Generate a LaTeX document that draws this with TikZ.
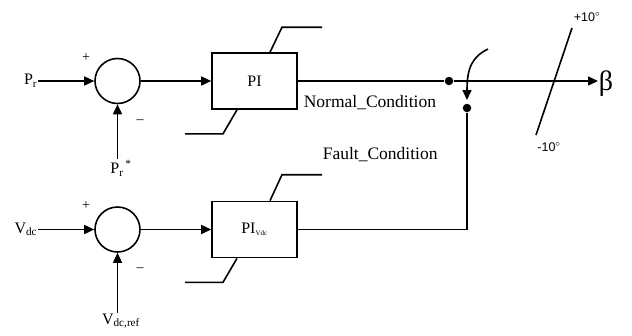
\documentclass[tikz,border=0pt]{standalone}
\usepackage{fontspec}
\setmainfont{Liberation Serif}
\newfontfamily\degfont{Liberation Sans}
\usetikzlibrary{arrows.meta,positioning,calc}

\begin{document}
\begin{tikzpicture}[x=1pt,y=-1pt,
  blk/.style={draw, line width=1.6pt, minimum width=85pt, minimum height=56pt, inner sep=0pt, font=\fontsize{16}{18}\selectfont},
  sumc/.style={draw, circle, line width=1.6pt, minimum size=45pt, inner sep=0pt},
  lbl/.style={inner sep=0pt, font=\fontsize{16}{18}\selectfont},
  sgn/.style={inner sep=0pt, font=\fontsize{14}{16}\selectfont},
  cond/.style={inner sep=0pt, anchor=west, font=\fontsize{17.5}{20}\selectfont},
  deg/.style={inner sep=0pt, font=\degfont\fontsize{12.5}{14}\selectfont},
  jdot/.style={circle, fill, inner sep=0pt, minimum size=8.5pt},
  line width=1.6pt, >={Triangle[length=10pt,width=9pt]}]
  \useasboundingbox (0,0) rectangle (632,335);

  % upper loop
  \node[sumc] (sum1) at (117.5,81) {};
  \node[blk] (pi1) at (254.5,81) {PI};
  \node[lbl, anchor=east] (pr) at (38,81) {P\textsubscript{r}};
  \node[lbl, anchor=north] (prs) at (121,159) {P\textsubscript{r}\textsuperscript{\,*}};
  \node[sgn] (plus1) at (86,58) {+};
  \node[sgn] (minus1) at (140,122) {--};
  \draw[->] (pr) -- (sum1);
  \draw[->] (prs.north -| sum1) -- (sum1);
  \draw[->] (sum1) -- (pi1);
  \draw ($(pi1.north)+(15.5,0)$) -- ++(12,-25) -- ++(40,0);
  \draw ($(pi1.south)+(-17.5,0)$) -- ++(-14,24) -- ++(-38,0);

  % lower loop
  \node[sumc] (sum2) at (117.5,229.5) {};
  \node[blk] (pi2) at (254.5,229.5) {PI\textsubscript{\scriptsize Vdc}};
  \node[lbl, anchor=east] (vdc) at (38,229.5) {V\textsubscript{dc}};
  \node[lbl, anchor=north] (vdcr) at (121,313) {V\textsubscript{dc,ref}};
  \node[sgn] (plus2) at (86,206) {+};
  \node[sgn] (minus2) at (140,270) {--};
  \draw[->] (vdc) -- (sum2);
  \draw[->] (vdcr.north -| sum2) -- (sum2);
  \draw[->] (sum2) -- (pi2);
  \draw ($(pi2.north)+(15.5,0)$) -- ++(12,-26) -- ++(40,0);
  \draw ($(pi2.south)+(-17.5,0)$) -- ++(-14,24) -- ++(-38,0);

  % switch and output
  \node[jdot] (j1) at (449,81) {};
  \node[jdot] (j2) at (467,108) {};
  \coordinate (swtop) at (488,49);
  \coordinate (swend) at (467,100);
  \node[inner sep=0pt, anchor=west, font=\fontsize{28}{30}\selectfont] (beta) at (598,84) {β};
  \draw (pi1) -- (j1);
  \draw[->] (j1) -- (beta.west |- j1);
  \draw[->] (swtop) .. controls (472,57) and (467,68) .. (swend);
  \draw (pi2.east) -| (j2);
  \node[cond] (normal) at (303,103) {Normal\_Condition};
  \node[cond] (fault) at (322,155) {Fault\_Condition};

  % rate limiter
  \coordinate (satlo) at (536,135);
  \coordinate (sathi) at (572,28);
  \draw (satlo) -- (sathi);
  \node[deg] (uplim) at (587,17) {+10$^{\circ}$};
  \node[deg] (lowlim) at (549,147) {-10$^{\circ}$};
\end{tikzpicture}
\end{document}
